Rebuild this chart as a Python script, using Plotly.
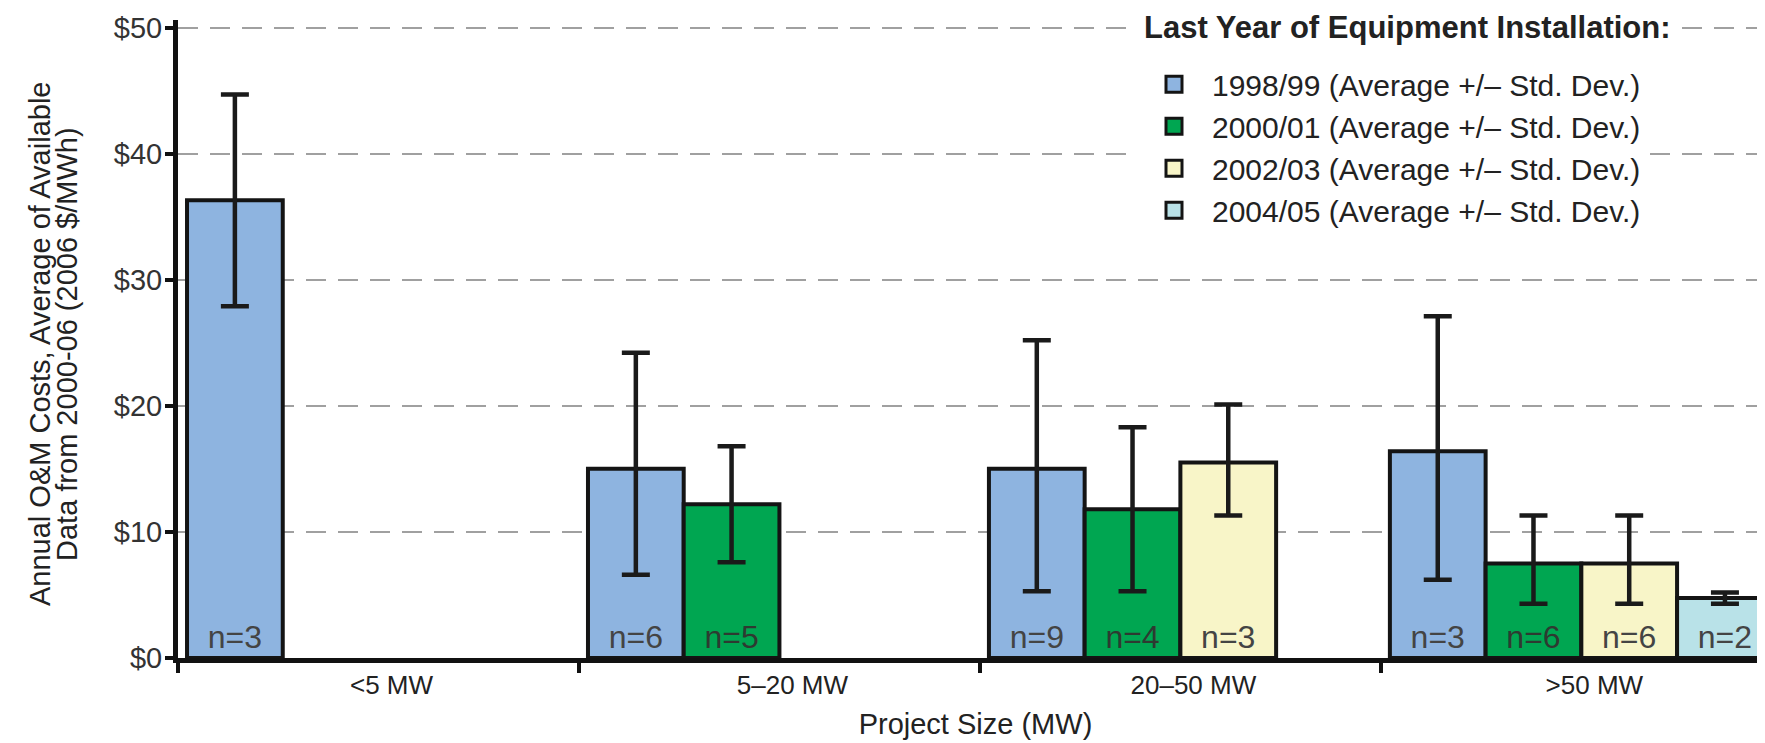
import plotly.graph_objects as go

# ---------------- data ----------------
categories = ["<5 MW", "5–20 MW", "20–50 MW", ">50 MW"]

name_1998 = "1998/99 (Average +/– Std. Dev.)"
avg_1998 = [36.3, 15.0, 15.0, 16.4]
plus_1998 = [8.4, 9.2, 10.2, 10.7]
minus_1998 = [8.4, 8.4, 9.7, 10.2]
n_1998 = [3, 6, 9, 3]

name_2000 = "2000/01 (Average +/– Std. Dev.)"
avg_2000 = [None, 12.2, 11.8, 7.5]
plus_2000 = [None, 4.6, 6.5, 3.8]
minus_2000 = [None, 4.6, 6.5, 3.2]
n_2000 = [None, 5, 4, 6]

name_2002 = "2002/03 (Average +/– Std. Dev.)"
avg_2002 = [None, None, 15.5, 7.5]
plus_2002 = [None, None, 4.6, 3.8]
minus_2002 = [None, None, 4.2, 3.2]
n_2002 = [None, None, 3, 6]

name_2004 = "2004/05 (Average +/– Std. Dev.)"
avg_2004 = [None, None, None, 4.75]
plus_2004 = [None, None, None, 0.45]
minus_2004 = [None, None, None, 0.45]
n_2004 = [None, None, None, 2]

ytick_vals = [0, 10, 20, 30, 40, 50]
ytick_text = ["$0", "$10", "$20", "$30", "$40", "$50"]

y_title_lines = ["Annual O&M Costs, Average of Available", "Data from 2000-06 (2006 $/MWh)"]
x_title = "Project Size (MW)"
legend_title = "<b>Last Year of Equipment Installation:</b>"

# ---------------- style ----------------
FONT = "'Liberation Sans', Arial, sans-serif"
colors = ["#8EB4E0", "#00A651", "#F8F5C8", "#B9E2E8"]
text_colors = ["#444444", "#2e3a31", "#444444", "#444444"]

series = [
    (name_1998, avg_1998, plus_1998, minus_1998, n_1998),
    (name_2000, avg_2000, plus_2000, minus_2000, n_2000),
    (name_2002, avg_2002, plus_2002, minus_2002, n_2002),
    (name_2004, avg_2004, plus_2004, minus_2004, n_2004),
]

L, T, B = 170, 12, 93
W, H = 1765, 743
plot_w = W - L
plot_h = H - T - B

fig = go.Figure()
for i, (nm, avg, pl, mi, n) in enumerate(series):
    fig.add_trace(go.Bar(
        name=nm,
        x=categories,
        y=avg,
        text=[("n=%d" % v) if v is not None else "" for v in n],
        textposition="inside",
        insidetextanchor="start",
        textangle=0,
        textfont=dict(family=FONT, size=32, color=text_colors[i]),
        marker=dict(color=colors[i], line=dict(color="#141414", width=4)),
        error_y=dict(type="data", symmetric=False, array=pl, arrayminus=mi,
                     color="#1a1a1a", thickness=4.5, width=14),
        cliponaxis=False,
        showlegend=False,
        legendgroup=nm,
    ))

# legend-only entries (square swatches with heavy outline, like the original key)
for i, (nm, avg, pl, mi, n) in enumerate(series):
    fig.add_trace(go.Scatter(
        name=nm, x=[None], y=[None], mode="markers",
        marker=dict(symbol="square", size=16, color=colors[i], line=dict(color="#141414", width=3)),
        legendgroup=nm, showlegend=True, hoverinfo="skip",
    ))

# legend title (as a white-backed label sitting on the top gridline)
fig.add_annotation(
    text=legend_title, xref="paper", yref="paper",
    x=(1126 - L) / plot_w, y=(H - B - 19) / plot_h,
    xanchor="left", yanchor="middle", showarrow=False,
    bgcolor="white", borderpad=9,
    font=dict(family=FONT, size=31, color="#222222"),
)

# y-axis title, two tightly spaced rotated lines
for txt, xs in zip(y_title_lines, [-138, -111]):
    fig.add_annotation(
        text=txt, xref="paper", yref="paper", x=0, y=0.5,
        xshift=xs, yshift=-5, textangle=-90,
        xanchor="center", yanchor="middle", showarrow=False,
        font=dict(family=FONT, size=29, color="#222222"),
    )

fig.update_layout(
    width=W, height=H,
    margin=dict(l=L, r=0, t=T, b=B),
    paper_bgcolor="white", plot_bgcolor="white",
    barmode="group", bargap=0.045, bargroupgap=0,
    font=dict(family=FONT, size=24, color="#222222"),
    showlegend=True,
    legend=dict(
        x=(1128 - L) / plot_w, y=0.94, xanchor="left", yanchor="top",
        bgcolor="white", borderwidth=0,
        font=dict(family=FONT, size=30, color="#222222"),
        tracegroupgap=0, itemwidth=66, itemsizing="trace",
    ),
)

fig.update_xaxes(
    range=[-0.5, 3.478],
    showline=True, linecolor="#111111", linewidth=5,
    ticks="outside", tickson="boundaries", ticklen=10, tickwidth=4, tickcolor="#111111",
    showgrid=False,
    tickfont=dict(family=FONT, size=26, color="#222222"),
    ticklabelshift=13,
    title=dict(text=x_title, font=dict(family=FONT, size=29, color="#222222"), standoff=16),
)

fig.update_yaxes(
    range=[0, 50.6],
    tickvals=ytick_vals, ticktext=ytick_text,
    showline=True, linecolor="#111111", linewidth=5,
    ticks="outside", ticklen=8, tickwidth=4, tickcolor="#111111",
    showgrid=True, gridcolor="#a0a0a0", gridwidth=1.5, griddash="20px,12px",
    zeroline=False,
    tickfont=dict(family=FONT, size=29, color="#333333"),
    ticklabelstandoff=-3,
)

fig.write_html("out.html")
